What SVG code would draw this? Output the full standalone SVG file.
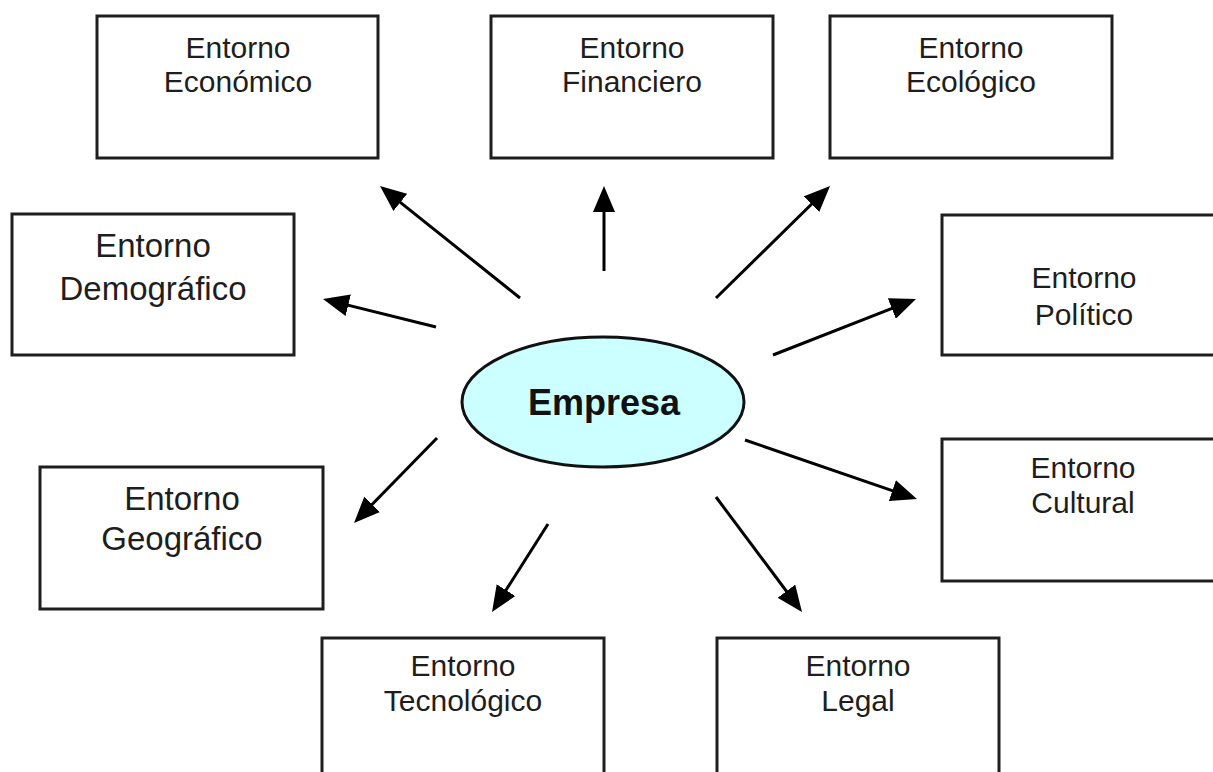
<svg xmlns="http://www.w3.org/2000/svg" width="1213" height="772" viewBox="0 0 1213 772">
<defs>
<style>
.box{fill:#fff;stroke:#1e1e1e;stroke-width:3}
.t{font-family:"Liberation Sans",Arial,sans-serif;font-size:30px;fill:#1e1e1e;text-anchor:middle}
.tl{font-size:33px}
.c{stroke:#000;stroke-width:3;fill:none;marker-end:url(#ah)}
</style>
<marker id="ah" markerUnits="userSpaceOnUse" markerWidth="26" markerHeight="22" refX="16" refY="11" orient="auto">
<path d="M0,0 L26,11 L0,22 Z" fill="#000"/>
</marker>
</defs>
<rect width="1213" height="772" fill="#fff"/>
<g id="connectors">
<line class="c" x1="520" y1="298" x2="387.8" y2="192.3"/>
<line class="c" x1="604" y1="271" x2="604" y2="196"/>
<line class="c" x1="716" y1="298" x2="822.9" y2="193"/>
<line class="c" x1="436" y1="327" x2="332.7" y2="301.4"/>
<line class="c" x1="773" y1="355" x2="906.7" y2="302.7"/>
<line class="c" x1="437" y1="438" x2="361" y2="515.8"/>
<line class="c" x1="745" y1="440" x2="907.5" y2="495.8"/>
<line class="c" x1="548" y1="524" x2="497.4" y2="603.6"/>
<line class="c" x1="716" y1="497" x2="796" y2="604"/>
</g>
<g id="empresa">
<ellipse cx="603" cy="402" rx="141" ry="65" fill="#ccffff" stroke="#111" stroke-width="3"/>
<text x="604" y="415" style="font-family:'Liberation Sans',Arial,sans-serif;font-size:36px;font-weight:bold;fill:#111;text-anchor:middle">Empresa</text>
</g>
<g id="economico">
<rect class="box" x="97" y="16" width="281" height="142"/>
<text class="t" x="238" y="58">Entorno</text>
<text class="t" x="238" y="92">Económico</text>
</g>
<g id="financiero">
<rect class="box" x="491" y="16" width="282" height="142"/>
<text class="t" x="632" y="58">Entorno</text>
<text class="t" x="632" y="92">Financiero</text>
</g>
<g id="ecologico">
<rect class="box" x="830" y="16" width="282" height="142"/>
<text class="t" x="971" y="58">Entorno</text>
<text class="t" x="971" y="92">Ecológico</text>
</g>
<g id="demografico">
<rect class="box" x="12" y="214" width="282" height="141"/>
<text class="t tl" x="153" y="257">Entorno</text>
<text class="t tl" x="153" y="300">Demográfico</text>
</g>
<g id="politico">
<rect class="box" x="942" y="215" width="282" height="140"/>
<text class="t" x="1084" y="288">Entorno</text>
<text class="t" x="1084" y="325">Político</text>
</g>
<g id="geografico">
<rect class="box" x="40" y="467" width="283" height="142"/>
<text class="t tl" x="182" y="510">Entorno</text>
<text class="t tl" x="182" y="550">Geográfico</text>
</g>
<g id="cultural">
<rect class="box" x="942" y="439" width="282" height="142"/>
<text class="t" x="1083" y="478">Entorno</text>
<text class="t" x="1083" y="513">Cultural</text>
</g>
<g id="tecnologico">
<rect class="box" x="322" y="638" width="282" height="150"/>
<text class="t" x="463" y="676">Entorno</text>
<text class="t" x="463" y="711">Tecnológico</text>
</g>
<g id="legal">
<rect class="box" x="717" y="638" width="282" height="150"/>
<text class="t" x="858" y="676">Entorno</text>
<text class="t" x="858" y="711">Legal</text>
</g>
</svg>
